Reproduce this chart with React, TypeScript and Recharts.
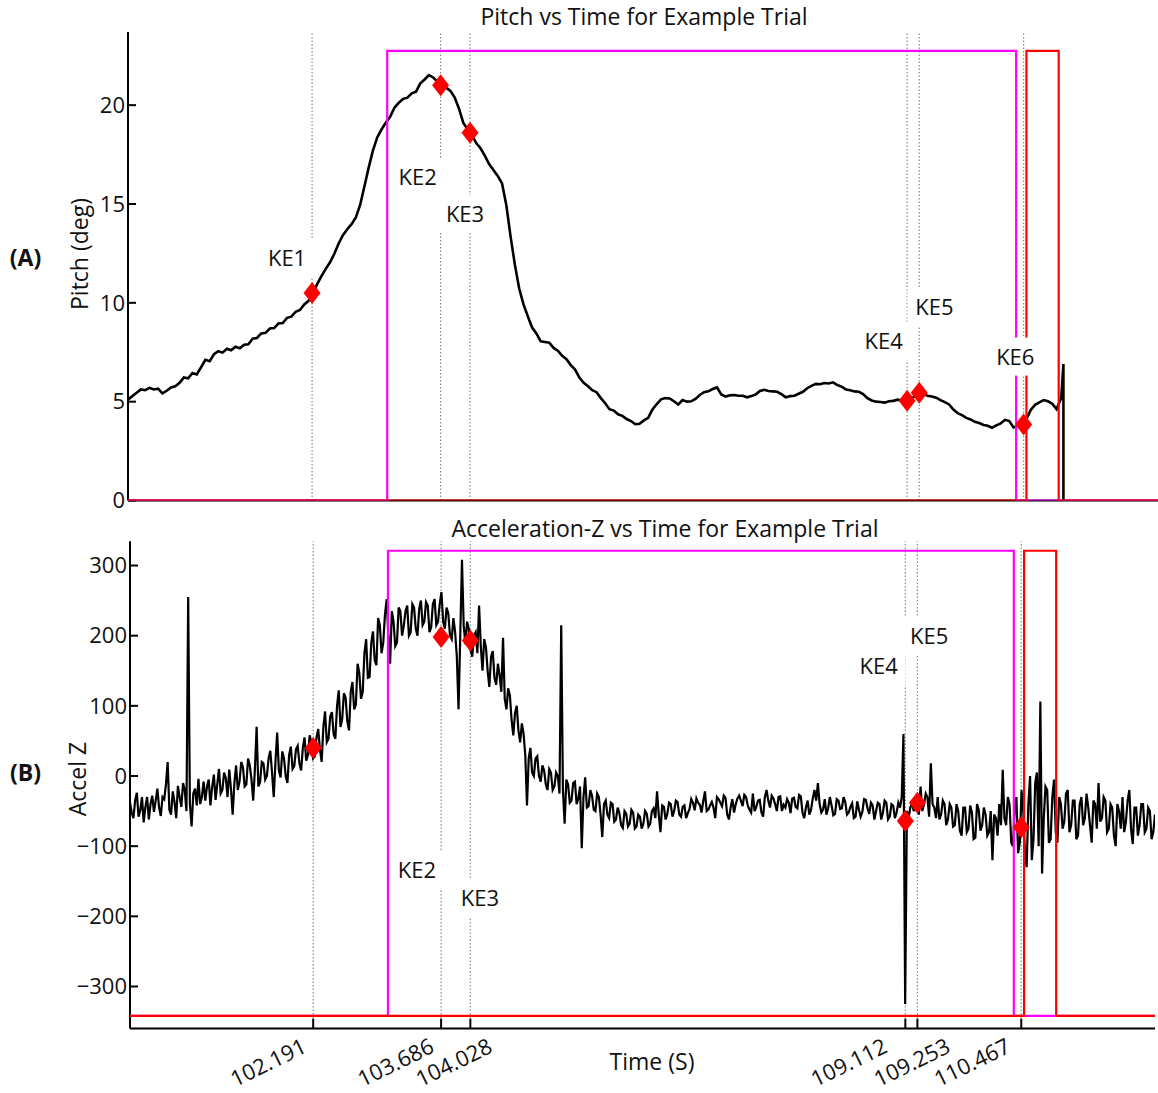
import { ComposedChart, Line, Scatter, XAxis, YAxis, ReferenceLine, ReferenceDot } from 'recharts';

const FONT = '"Open Sans", "Noto Sans", sans-serif';

// shared time axis (s)
const T_MIN = 100.05;
const T_MAX = 112.03;

// key events
const keNames = ['KE1', 'KE2', 'KE3', 'KE4', 'KE5', 'KE6'];
const keTimes = [102.191, 103.686, 104.028, 109.112, 109.253, 110.467];
const kePitch = [10.5, 21.0, 18.6, 5.05, 5.45, 3.85];
const keAccel = [40, 198, 193, -64, -38, -73];

// pitch trace, sampled every 0.05 s from T_MIN
const PITCH_STEP = 0.05;
const pitchDeg = [
  5.1, 5.28, 5.45, 5.62, 5.58, 5.7, 5.62, 5.66, 5.42, 5.55,
  5.72, 5.78, 5.95, 6.22, 6.18, 6.45, 6.38, 6.74, 7.12, 7.05,
  7.4, 7.55, 7.48, 7.68, 7.6, 7.78, 7.7, 7.88, 7.9, 8.18,
  8.22, 8.45, 8.48, 8.7, 8.72, 8.95, 8.98, 9.24, 9.3, 9.55,
  9.64, 9.92, 10.1, 10.45, 10.95, 11.35, 11.72, 12.05, 12.48, 13.0,
  13.42, 13.72, 13.98, 14.32, 14.95, 15.9, 16.85, 17.72, 18.38, 18.78,
  19.12, 19.42, 19.88, 20.12, 20.32, 20.38, 20.6, 20.68, 21.1, 21.3,
  21.52, 21.4, 21.18, 20.98, 20.88, 20.72, 20.38, 19.82, 19.1, 18.78,
  18.48, 18.08, 17.82, 17.45, 17.02, 16.72, 16.42, 16.05, 14.95, 13.35,
  11.92, 10.72, 9.92, 9.32, 8.75, 8.45, 8.05, 8.02, 7.98, 7.72,
  7.58, 7.32, 7.15, 6.85, 6.62, 6.22, 5.95, 5.78, 5.58, 5.48,
  5.18, 4.92, 4.62, 4.55, 4.36, 4.28, 4.12, 4.02, 3.86, 3.88,
  4.05, 4.18, 4.6, 4.88, 5.12, 5.18, 5.16, 5.02, 4.86, 5.08,
  5.0, 5.02, 5.14, 5.34, 5.48, 5.52, 5.64, 5.72, 5.36, 5.26,
  5.32, 5.34, 5.3, 5.3, 5.22, 5.28, 5.36, 5.54, 5.6, 5.54,
  5.52, 5.5, 5.38, 5.22, 5.28, 5.3, 5.4, 5.5, 5.68, 5.8,
  5.9, 5.88, 5.94, 5.92, 5.98, 5.84, 5.76, 5.62, 5.58, 5.52,
  5.5, 5.38, 5.18, 5.06, 5.0, 4.98, 4.95, 5.02, 5.04, 5.1,
  5.06, 5.0, 5.12, 5.28, 5.44, 5.38, 5.3, 5.26, 5.2, 5.08,
  4.98, 4.86, 4.6, 4.42, 4.32, 4.18, 4.1, 3.98, 3.92, 3.82,
  3.78, 3.68, 3.8, 3.9, 4.08, 4.02, 3.7, 3.78, 3.84, 4.12,
  4.58, 4.84, 4.96, 5.08, 5.02, 4.9, 4.62,
];
// end of recording: short jump then drop to zero
const pitchTailTimes = [110.905, 110.93, 110.93];
const pitchTailDeg = [5.2, 6.9, 0];

// vertical acceleration, sampled every 0.02 s from T_MIN
const ACCEL_STEP = 0.02;
const accelZ = [
  -38, -52, -60, -35, -24, -58, -49, -30, -66, -44, -30, -62, -40, -28, -51, -35, -18, -45, -57, -30,
  -33, -12, 20, -48, -55, -22, -37, -60, -14, -30, -44, -10, -20, -50, 255, -40, -72, -25, -18, -42,
  -4, -40, -30, -8, -35, -15, -5, -42, -16, 2, -34, -12, 10, -25, -20, 5, -3, -30, 9, -18,
  -55, -10, 15, -20, -8, 20, 13, -15, -12, 25, 15, -5, -35, 10, 70, -15, -9, 20, 18, -5,
  0, 25, 36, 5, -30, 20, 62, 8, -2, 35, 25, 0, -10, 30, 42, 10, 14, 38, 43, 18,
  8, 40, 55, 22, 30, 58, 48, 25, 28, 55, 67, 38, 20, 70, 92, 48, 53, 85, 91, 60,
  53, 100, 122, 70, 81, 118, 112, 78, 65, 120, 134, 95, 102, 160, 147, 110, 120, 175, 195, 140,
  141, 190, 206, 165, 158, 225, 215, 175, 190, 230, 252, 200, 160, 235, 220, 185, 190, 240, 235, 200,
  214, 235, 243, 200, 205, 245, 240, 210, 200, 238, 250, 215, 220, 248, 243, 205, 212, 245, 252, 215,
  220, 245, 262, 220, 210, 240, 232, 200, 195, 225, 205, 170, 95, 200, 308, 215, 188, 220, 210, 180,
  170, 200, 205, 175, 243, 185, 150, 195, 184, 150, 127, 170, 178, 140, 130, 160, 143, 120, 197, 110,
  95, 125, 115, 80, 58, 90, 100, 65, 48, 75, 60, 30, -42, 25, 40, 5, 0, 25, 28, 0,
  -8, 15, 8, -12, -20, 10, 5, -20, -15, 5, 0, -25, 215, -20, -68, -5, -12, -38, -35, -10,
  -8, -40, -32, -15, -103, -30, -2, -45, -43, -20, -28, -48, -50, -25, -30, -55, -87, -40, -35, -55,
  -60, -38, -40, -65, -62, -45, -53, -70, -74, -50, -54, -72, -68, -48, -52, -75, -72, -55, -58, -75,
  -68, -50, -54, -72, -68, -50, -46, -60, -22, -55, -80, -42, -44, -62, -54, -38, -40, -58, -50, -35,
  -37, -55, -58, -44, -42, -60, -53, -47, -33, -38, -49, -32, -38, -41, -52, -36, -22, -50, -48, -42,
  -37, -45, -60, -30, -33, -38, -43, -28, -31, -55, -62, -45, -33, -52, -40, -32, -28, -35, -43, -27,
  -30, -42, -48, -52, -25, -50, -44, -35, -34, -52, -58, -30, -20, -35, -45, -28, -32, -40, -50, -30,
  -29, -50, -41, -45, -33, -38, -53, -32, -31, -44, -46, -27, -29, -52, -60, -45, -35, -55, -48, -32,
  -20, -35, -10, -40, -52, -48, -33, -55, -46, -30, -42, -56, -54, -33, -35, -47, -46, -30, -37, -55,
  -52, -44, -39, -60, -58, -36, -48, -58, -51, -33, -34, -46, -54, -38, -42, -62, -50, -38, -40, -62,
  -52, -35, -38, -62, -58, -40, -42, -60, -52, -38, -45, -30, 60, -325, -50, -60, -45, -38, -50, -42,
  -30, -55, -15, -50, -40, -25, -30, -58, 18, -40, -45, -60, -30, -62, -55, -35, -40, -70, -62, -40,
  -45, -72, -70, -40, -50, -78, -85, -45, -45, -80, -75, -42, -52, -90, -88, -40, -48, -78, -70, -45,
  -55, -85, -80, -50, -120, -55, -60, -85, -40, -70, 9, -60, -70, -30, -40, -95, -100, -45, -30, -110,
  -95, -20, -50, -110, -130, -40, 0, -120, -90, -10, 5, -100, 106, -139, -60, -15, -20, -95, -90, -30,
  -5, -80, -95, -30, -40, -75, -65, -25, -20, -80, -70, -35, -35, -90, -85, -40, -30, -70, -60, -25,
  -45, -70, -95, -35, -40, -75, -10, -65, -60, -30, -35, -80, -75, -40, -45, -85, -100, -40, -50, -75,
  -30, -80, -65, -35, -20, -75, -97, -45, -45, -85, -70, -40, -40, -80, -75, -45, -50, -90, -80, -55, -62,
];

// trigger windows [on, off] in s, and their levels in each panel
const magentaWindow = [103.065, 110.38];
const redWindow = [110.5, 110.875];
const pitchGateLevels = [0, 22.75];
const accelGateLevels = [-342, 321];

// tick values
const pitchTicks = [0, 5, 10, 15, 20];
const accelTicks = [-300, -200, -100, 0, 100, 200, 300];

// layout: where the event tags sit, and how far each time label is nudged (px)
const pitchTagSpots = [
  { t: 101.9, v: 12.24 },
  { t: 103.42, v: 16.34 },
  { t: 103.97, v: 14.49 },
  { t: 108.84, v: 8.04 },
  { t: 109.43, v: 9.79 },
  { t: 110.37, v: 7.28 },
];
const accelTagSpots = [
  null,
  { t: 103.404, v: -134 },
  { t: 104.14, v: -174 },
  { t: 108.8, v: 156 },
  { t: 109.39, v: 200 },
  null,
];
const timeLabelNudge = [-5, -5.5, 23.5, -16.5, 34.5, -9.3];

// bottom panel geometry
const BOTTOM_H = 573;
const BOTTOM_MARGIN = { top: 21.3, right: 3, bottom: 14.4, left: 70 };
const BOTTOM_XAXIS_H = 50;
const BOTTOM_AXIS_Y = BOTTOM_H - BOTTOM_MARGIN.bottom - BOTTOM_XAXIS_H;

const sampled = (values: number[], step: number) =>
  values.map((v, i) => ({ t: +(T_MIN + i * step).toFixed(3), v }));

const pitchData = sampled(pitchDeg, PITCH_STEP).concat(
  pitchTailTimes.map((t, i) => ({ t, v: pitchTailDeg[i] }))
);
const accelData = sampled(accelZ, ACCEL_STEP);

const gate = ([on, off]: number[], [low, high]: number[]) => [
  { t: T_MIN, v: low },
  { t: on, v: low },
  { t: on, v: high },
  { t: off, v: high },
  { t: off, v: low },
  { t: T_MAX, v: low },
];

const pitchMarks = keTimes.map((t, i) => ({ t, v: kePitch[i] }));
const accelMarks = keTimes.map((t, i) => ({ t, v: keAccel[i] }));

const Diamond = (props: any) => {
  const { cx, cy } = props;
  if (cx == null || cy == null) return null;
  const w = 8.5;
  const h = 11;
  return (
    <polygon
      points={`${cx},${cy - h} ${cx + w},${cy} ${cx},${cy + h} ${cx - w},${cy}`}
      fill="#ff0000"
    />
  );
};

const tagShape = (text: string) => (props: any) => {
  const { cx, cy } = props;
  return (
    <g>
      <rect x={cx - 27} y={cy - 19} width={54} height={38} fill="#ffffff" />
      <text
        x={cx}
        y={cy}
        dy="0.36em"
        textAnchor="middle"
        fontFamily={FONT}
        fontSize={22}
        fill="#111"
      >
        {text}
      </text>
    </g>
  );
};

// rotated time labels, anchored by their right end just under each tick
const TimeTick = (props: any) => {
  const { x, payload, baseY } = props;
  const idx = keTimes.indexOf(payload.value);
  const ax = x + (idx >= 0 ? timeLabelNudge[idx] : 0);
  return (
    <text
      x={ax}
      y={baseY}
      transform={`rotate(-26 ${ax} ${baseY})`}
      textAnchor="end"
      fontFamily={FONT}
      fontSize={22}
      fill="#111"
    >
      {Number(payload.value).toFixed(3)}
    </text>
  );
};

const axisStroke = { stroke: '#000', strokeWidth: 2 };
const yTick = { fill: '#111', fontSize: 22, fontFamily: FONT };
const minusSign = (v: number) => String(v).replace('-', '\u2212');

function EventPanel({
  width,
  height,
  margin,
  yDomain,
  yTicks,
  xAxisHeight,
  timeTick,
  trace,
  traceWidth,
  marks,
  gateLevels,
  tagSpots,
}: any) {
  return (
    <ComposedChart width={width} height={height} margin={margin}>
      <XAxis
        type="number"
        dataKey="t"
        domain={[T_MIN, T_MAX]}
        allowDataOverflow
        ticks={keTimes}
        interval={0}
        height={xAxisHeight}
        axisLine={axisStroke}
        tickLine={axisStroke}
        tickSize={-10}
        tickMargin={20}
        tick={timeTick}
      />
      <YAxis
        type="number"
        dataKey="v"
        domain={yDomain}
        allowDataOverflow
        ticks={yTicks}
        interval={0}
        width={60}
        axisLine={axisStroke}
        tickLine={axisStroke}
        tickSize={-8}
        tickMargin={11}
        tick={yTick}
        tickFormatter={minusSign}
      />
      {keTimes.map((t) => (
        <ReferenceLine
          key={`ke-${t}`}
          x={t}
          stroke="#8a8a8a"
          strokeWidth={1.2}
          strokeDasharray="1.5 2"
          zIndex={50}
        />
      ))}
      <Line
        data={trace}
        dataKey="v"
        type="linear"
        stroke="#000"
        strokeWidth={traceWidth}
        dot={false}
        isAnimationActive={false}
      />
      <Line
        data={gate(magentaWindow, gateLevels)}
        dataKey="v"
        type="linear"
        stroke="#ff00ff"
        strokeWidth={2.2}
        dot={false}
        isAnimationActive={false}
        zIndex={550}
      />
      <Line
        data={gate(redWindow, gateLevels)}
        dataKey="v"
        type="linear"
        stroke="#ff0000"
        strokeWidth={2.2}
        dot={false}
        isAnimationActive={false}
        zIndex={560}
      />
      <Scatter
        data={marks}
        dataKey="v"
        shape={<Diamond />}
        isAnimationActive={false}
        zIndex={700}
      />
      {tagSpots.map((spot: any, i: number) =>
        spot ? (
          <ReferenceDot
            key={keNames[i]}
            x={spot.t}
            y={spot.v}
            r={0}
            shape={tagShape(keNames[i])}
            zIndex={650}
          />
        ) : null
      )}
    </ComposedChart>
  );
}

export default function App() {
  return (
    <div style={{ position: 'relative', width: 1158, height: 1093, overflow: 'hidden', background: '#fff' }}>
      <style>{'body{margin:0}'}</style>
      <div style={{ position: 'absolute', left: 0, top: 0 }}>
        <EventPanel
          width={1158}
          height={540}
          margin={{ top: 32, right: 0, bottom: 19.5, left: 68 }}
          yDomain={[0, 23.7]}
          yTicks={pitchTicks}
          xAxisHeight={20}
          timeTick={false}
          trace={pitchData}
          traceWidth={2.6}
          marks={pitchMarks}
          gateLevels={pitchGateLevels}
          tagSpots={pitchTagSpots}
        />
      </div>
      <div style={{ position: 'absolute', left: 0, top: 520 }}>
        <EventPanel
          width={1158}
          height={BOTTOM_H}
          margin={BOTTOM_MARGIN}
          yDomain={[-360, 334.5]}
          yTicks={accelTicks}
          xAxisHeight={BOTTOM_XAXIS_H}
          timeTick={<TimeTick baseY={BOTTOM_AXIS_Y + 23} />}
          trace={accelData}
          traceWidth={2.2}
          marks={accelMarks}
          gateLevels={accelGateLevels}
          tagSpots={accelTagSpots}
        />
      </div>
      <svg
        width={1158}
        height={1093}
        style={{ position: 'absolute', left: 0, top: 0, pointerEvents: 'none' }}
        fontFamily={FONT}
        fill="#111"
      >
        <text x={644} y={25} textAnchor="middle" fontSize={23}>
          Pitch vs Time for Example Trial
        </text>
        <text x={665} y={537} textAnchor="middle" fontSize={23}>
          Acceleration-Z vs Time for Example Trial
        </text>
        <text x={25.5} y={266} textAnchor="middle" fontSize={23} fontWeight="bold">
          (A)
        </text>
        <text x={25.5} y={781} textAnchor="middle" fontSize={23} fontWeight="bold">
          (B)
        </text>
        <text transform="translate(80 254) rotate(-90)" textAnchor="middle" dy="0.35em" fontSize={23}>
          Pitch (deg)
        </text>
        <text transform="translate(78 779) rotate(-90)" textAnchor="middle" dy="0.35em" fontSize={23}>
          Accel Z
        </text>
        <text x={652} y={1070} textAnchor="middle" fontSize={23}>
          Time (S)
        </text>
      </svg>
    </div>
  );
}
